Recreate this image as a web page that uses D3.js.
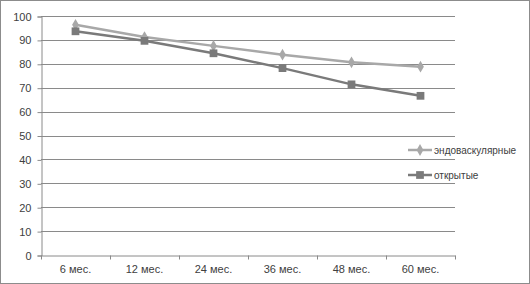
<!DOCTYPE html>
<html>
<head>
<meta charset="utf-8">
<script src="https://cdn.jsdelivr.net/npm/d3@7"></script>
<style>
  body { margin: 0; background: #fff; }
  svg { display: block; font-family: "Liberation Sans", Arial, sans-serif; }
</style>
</head>
<body>
<script>
const categories = ["6 мес.", "12 мес.", "24 мес.", "36 мес.", "48 мес.", "60 мес."];
const endoValues = [96.3, 91.2, 87.5, 83.8, 80.6, 78.8];
const openValues = [93.6, 89.6, 84.4, 78.2, 71.4, 66.6];
const seriesNames = ["эндоваскулярные", "открытые"];
const yTicks = [0, 10, 20, 30, 40, 50, 60, 70, 80, 90, 100];

const width = 530;
const height = 284;
const plot = { left: 41, right: 455, top: 16, bottom: 255 };

const svg = d3.select("body").append("svg")
  .attr("width", width)
  .attr("height", height);

svg.append("rect")
  .attr("x", 0.5).attr("y", 0.5)
  .attr("width", width - 1).attr("height", height - 1)
  .attr("fill", "#fff").attr("stroke", "#8c8c8c");

const xScale = d3.scaleBand()
  .domain(categories)
  .range([plot.left, plot.right]);

const yScale = d3.scaleLinear()
  .domain([0, 100])
  .range([plot.bottom, plot.top]);

// grid
svg.append("g")
  .selectAll("line")
  .data(yTicks.slice(1))
  .enter()
  .append("line")
  .attr("x1", plot.left).attr("x2", plot.right)
  .attr("y1", (d) => Math.round(yScale(d)) + 0.5)
  .attr("y2", (d) => Math.round(yScale(d)) + 0.5)
  .attr("stroke", "#8a8a8a");

const yAxis = d3.axisLeft(yScale).tickValues(yTicks).tickSize(4).tickPadding(6);
const yG = svg.append("g")
  .attr("transform", `translate(${plot.left + 0.5},0.5)`)
  .call(yAxis);

const xAxis = d3.axisBottom(xScale).tickSize(0).tickPadding(10);
const xG = svg.append("g")
  .attr("transform", `translate(0,${Math.round(plot.bottom) + 0.5})`)
  .call(xAxis);

// x tick marks at band boundaries
xG.selectAll(".bound")
  .data(d3.range(categories.length + 1))
  .enter()
  .append("line")
  .attr("x1", (i) => Math.round(plot.left + i * xScale.bandwidth()) + 0.5)
  .attr("x2", (i) => Math.round(plot.left + i * xScale.bandwidth()) + 0.5)
  .attr("y1", 0).attr("y2", 4)
  .attr("stroke", "#8a8a8a");

[yG, xG].forEach((g) => {
  g.select(".domain").attr("stroke", "#8a8a8a");
  g.selectAll(".tick line").attr("stroke", "#8a8a8a");
  g.selectAll("text").attr("font-size", 11).attr("fill", "#404040")
    .attr("font-family", "'Liberation Sans', Arial, sans-serif");
});

const cx = (d, i) => xScale(categories[i]) + xScale.bandwidth() / 2;

const series = [
  { name: seriesNames[0], values: endoValues, color: "#a8a8a8", shape: d3.symbolDiamond, size: 40 },
  { name: seriesNames[1], values: openValues, color: "#7a7a7a", shape: d3.symbolSquare, size: 60 }
];

const line = d3.line().x(cx).y((d) => yScale(d));

series.forEach((s) => {
  svg.append("path")
    .datum(s.values)
    .attr("d", line)
    .attr("fill", "none")
    .attr("stroke", s.color)
    .attr("stroke-width", 2.5);

  svg.append("g")
    .selectAll("path")
    .data(s.values)
    .enter()
    .append("path")
    .attr("transform", (d, i) => `translate(${cx(d, i)},${yScale(d)})`)
    .attr("d", d3.symbol().type(s.shape).size(s.size))
    .attr("fill", s.color);
});

// legend
const legend = svg.append("g");
series.forEach((s, i) => {
  const y = 150 + i * 25;
  legend.append("line")
    .attr("x1", 408).attr("x2", 432)
    .attr("y1", y).attr("y2", y)
    .attr("stroke", s.color).attr("stroke-width", 2.5);
  legend.append("path")
    .attr("transform", `translate(420,${y})`)
    .attr("d", d3.symbol().type(s.shape).size(s.size))
    .attr("fill", s.color);
  legend.append("text")
    .attr("x", 434).attr("y", y + 4)
    .attr("font-size", 10)
    .attr("fill", "#404040")
    .text(s.name);
});
</script>
</body>
</html>
